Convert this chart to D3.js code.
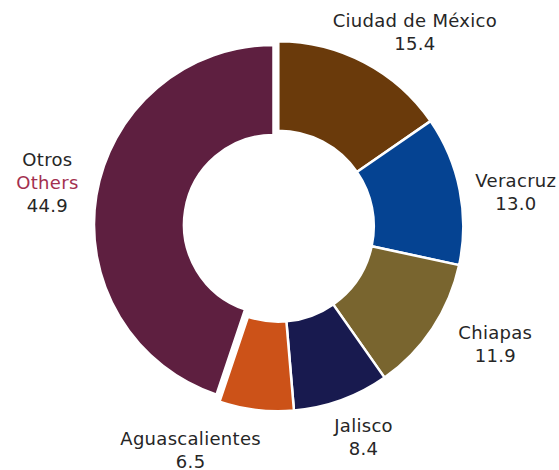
<!DOCTYPE html>
<html><head><meta charset="utf-8">
<script src="https://cdn.jsdelivr.net/npm/d3@7"></script>
<style>body{margin:0;background:#fff}svg{display:block}</style>
</head><body>
<script>
const categories = ["Ciudad de México","Veracruz","Chiapas","Jalisco","Aguascalientes","Otros"];
const subLabels = ["","","","","","Others"];
const values = [15.4,13.0,11.9,8.4,6.5,44.9];
const colors = ["#6A3A0B","#054392","#79652F","#181A4F","#CC5218","#5E1F40"];

const W=559,H=470;
const svg=d3.select("body").append("svg").attr("width",W).attr("height",H);
const cx=278.3, cy=226.2, R=185, r=95.5;
const pie=d3.pie().sort(null).value(d=>d.v);
const data=categories.map((c,i)=>({c,v:values[i],col:colors[i],sub:subLabels[i]}));
const arcs=pie(data);
const arc=d3.arc().innerRadius(r).outerRadius(R);
const arcOther=d3.arc().innerRadius(89.5).outerRadius(179.5);
const g=svg.append("g").attr("transform",`translate(${cx},${cy})`);
g.selectAll("path").data(arcs).join("path")
  .attr("d",(d,i)=>i===5?arcOther(d):arc(d))
  .attr("transform",(d,i)=>i===5?"translate(-4.8,-1.7)":null)
  .attr("fill",d=>d.data.col)
  .attr("stroke","#fff").attr("stroke-width",2.5).attr("stroke-linejoin","miter");

// label placement: angle nudge (deg) and radius
const labelNudge=[7.5,3,-5,-2,14.5,1.5];
const labelRad=[237,240,247,228,241,235];
const fs=18, lh=23;
arcs.forEach((d,i)=>{
  const a=(d.startAngle+d.endAngle)/2 + labelNudge[i]*Math.PI/180;
  const x=cx+labelRad[i]*Math.sin(a), y=cy-labelRad[i]*Math.cos(a);
  const lines=[{t:d.data.c,c:"#262626"}];
  if(d.data.sub) lines.push({t:d.data.sub,c:"#A3304F"});
  lines.push({t:d3.format(".1f")(d.data.v),c:"#262626"});
  const y0=y-(lines.length-1)*lh/2;
  const t=svg.append("text").attr("text-anchor","middle")
    .attr("font-family","'DejaVu Sans', sans-serif").attr("font-size",fs)
    .attr("letter-spacing","0.3px");
  lines.forEach((l,k)=>t.append("tspan").attr("x",x).attr("y",y0+k*lh).attr("dy","0.35em").attr("fill",l.c).text(l.t));
});
</script>
</body></html>
